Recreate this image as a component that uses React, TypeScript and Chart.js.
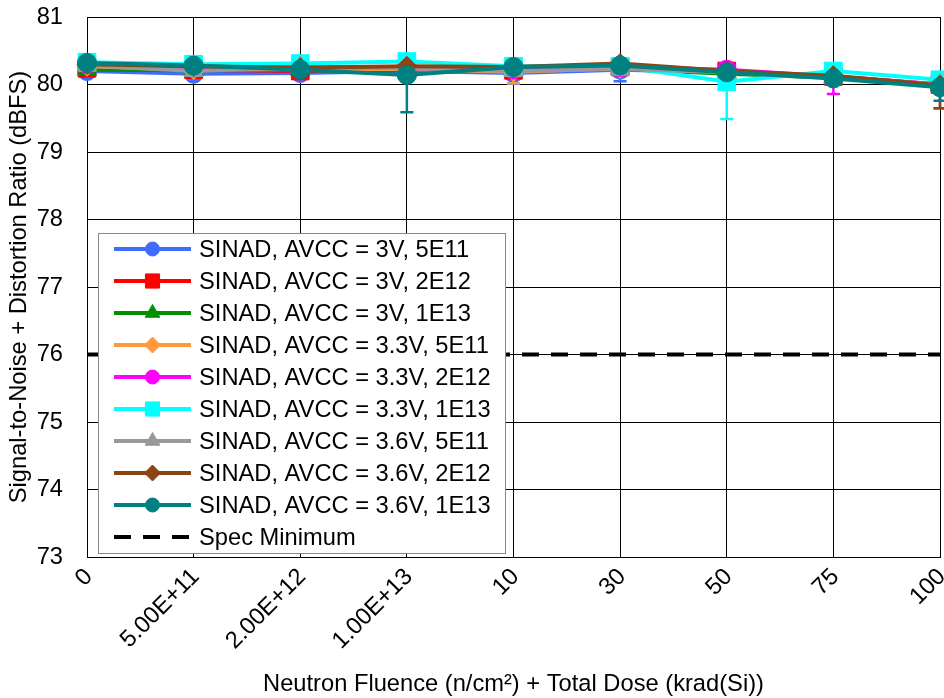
import React, { useEffect, useRef } from 'react';
import { Chart, registerables } from 'chart.js';
import { drawPoint } from 'chart.js/helpers';

Chart.register(...registerables);

// Test steps: neutron fluence levels followed by total ionizing dose levels
const categories = ['0', '5.00E+11', '2.00E+12', '1.00E+13', '10', '30', '50', '75', '100'];

// SINAD (dBFS) per supply voltage and neutron fluence lot
const sinad3V5E11 = [80.2, 80.16, 80.17, 80.2, 80.17, 80.22, 80.18, 80.1, 79.99];
const sinad3V2E12 = [80.24, 80.22, 80.2, 80.22, 80.21, 80.26, 80.2, 80.12, 80.0];
const sinad3V1E13 = [80.22, 80.21, 80.22, 80.21, 80.21, 80.23, 80.16, 80.1, 79.99];
const sinad33V5E11 = [80.27, 80.22, 80.23, 80.23, 80.19, 80.24, 80.19, 80.1, 80.0];
const sinad33V2E12 = [80.3, 80.25, 80.27, 80.24, 80.22, 80.26, 80.22, 80.12, 80.0];
const sinad33V1E13 = [80.33, 80.3, 80.31, 80.34, 80.27, 80.27, 80.04, 80.2, 80.07];
const sinad36V5E11 = [80.28, 80.2, 80.26, 80.24, 80.2, 80.23, 80.18, 80.1, 80.0];
const sinad36V2E12 = [80.3, 80.27, 80.25, 80.27, 80.26, 80.31, 80.2, 80.13, 79.99];
const sinad36V1E13 = [80.32, 80.28, 80.22, 80.14, 80.26, 80.28, 80.18, 80.09, 79.96];

// Lower error bar lengths (dB) for each series
const err3V5E11 = [0.04, 0.05, 0, 0, 0.16, 0.17, 0, 0, 0];
const err3V2E12 = [0, 0, 0, 0, 0, 0, 0, 0, 0];
const err3V1E13 = [0, 0, 0, 0, 0, 0, 0, 0, 0];
const err33V5E11 = [0, 0, 0, 0, 0.17, 0, 0, 0, 0];
const err33V2E12 = [0, 0, 0, 0, 0, 0, 0, 0.26, 0.35];
const err33V1E13 = [0, 0, 0, 0, 0, 0, 0.55, 0, 0];
const err36V5E11 = [0, 0, 0, 0, 0, 0, 0, 0, 0];
const err36V2E12 = [0, 0, 0, 0, 0, 0, 0, 0, 0.34];
const err36V1E13 = [0, 0, 0, 0.55, 0, 0, 0, 0, 0.2];

const specMinimum = 76;
const yMin = 73;
const yMax = 81;
const yStep = 1;

const seriesLabels = [
  'SINAD, AVCC = 3V, 5E11',
  'SINAD, AVCC = 3V, 2E12',
  'SINAD, AVCC = 3V, 1E13',
  'SINAD, AVCC = 3.3V, 5E11',
  'SINAD, AVCC = 3.3V, 2E12',
  'SINAD, AVCC = 3.3V, 1E13',
  'SINAD, AVCC = 3.6V, 5E11',
  'SINAD, AVCC = 3.6V, 2E12',
  'SINAD, AVCC = 3.6V, 1E13',
];
const seriesValues = [
  sinad3V5E11, sinad3V2E12, sinad3V1E13,
  sinad33V5E11, sinad33V2E12, sinad33V1E13,
  sinad36V5E11, sinad36V2E12, sinad36V1E13,
];
const seriesErrors = [
  err3V5E11, err3V2E12, err3V1E13,
  err33V5E11, err33V2E12, err33V1E13,
  err36V5E11, err36V2E12, err36V1E13,
];

const seriesColors = [
  '#3f6bff', '#ff0000', '#009000',
  '#ff9a3c', '#ff00ff', '#00ffff',
  '#999999', '#8b4513', '#008080',
];
const seriesMarkers = [
  'circle', 'rect', 'triangle',
  'rectRot', 'circle', 'rect',
  'triangle', 'rectRot', 'circle',
];

const FONT = '"Liberation Sans", Arial, sans-serif';
const TEXT_SIZE = 23.7;

const plotRadius: Record<string, number> = { circle: 9.5, rect: 12.5, triangle: 11, rectRot: 10 };
const legendRadius: Record<string, number> = { circle: 7, rect: 10, triangle: 8.5, rectRot: 8 };

// Downward error bars, drawn just under each series
const errorBarPlugin = {
  id: 'errorBars',
  beforeDatasetDraw(chart: any, args: any) {
    const ds = chart.data.datasets[args.index];
    const errs: number[] | undefined = ds.errMinus;
    if (!errs) return;
    const { ctx } = chart;
    const yScale = chart.scales.y;
    ctx.save();
    ctx.strokeStyle = ds.borderColor;
    ctx.lineWidth = 2.5;
    args.meta.data.forEach((pt: any, i: number) => {
      const e = errs[i];
      if (!e) return;
      const v = ds.data[i];
      const yTop = yScale.getPixelForValue(v);
      const yBot = yScale.getPixelForValue(v - e);
      ctx.beginPath();
      ctx.moveTo(pt.x, yTop);
      ctx.lineTo(pt.x, yBot);
      ctx.moveTo(pt.x - 6.5, yBot);
      ctx.lineTo(pt.x + 6.5, yBot);
      ctx.stroke();
    });
    ctx.restore();
  },
};

// Boxed legend in the lower-left corner of the plot area
const insideLegendPlugin = {
  id: 'insideLegend',
  afterDatasetsDraw(chart: any) {
    const { ctx, chartArea } = chart;
    const items = chart.data.datasets;
    const rowH = 32;
    const padL = 16;
    const sampleW = 77;
    const gap = 8;
    const padR = 14;
    ctx.save();
    ctx.font = `${TEXT_SIZE}px ${FONT}`;
    const textW = Math.max(...items.map((d: any) => ctx.measureText(d.label).width));
    const w = Math.round(padL + sampleW + gap + textW + padR);
    const h = rowH * items.length;
    const x0 = Math.round(chartArea.left + 11);
    const y0 = Math.round(chartArea.bottom - 4 - h);
    ctx.fillStyle = '#ffffff';
    ctx.fillRect(x0, y0, w, h);
    ctx.strokeStyle = '#8a8a8a';
    ctx.lineWidth = 1;
    ctx.strokeRect(x0 + 0.5, y0 + 0.5, w, h);

    items.forEach((d: any, i: number) => {
      const cy = y0 + 16 + i * rowH;
      const lx0 = x0 + padL;
      const lx1 = lx0 + sampleW;
      ctx.save();
      ctx.strokeStyle = d.borderColor;
      ctx.lineWidth = 4;
      ctx.setLineDash(d.borderDash || []);
      ctx.beginPath();
      ctx.moveTo(lx0, cy);
      ctx.lineTo(lx1, cy);
      ctx.stroke();
      ctx.setLineDash([]);
      if (d.pointRadius > 0) {
        ctx.fillStyle = d.backgroundColor;
        ctx.strokeStyle = d.borderColor;
        ctx.lineWidth = 1;
        drawPoint(ctx, { pointStyle: d.pointStyle, radius: legendRadius[d.pointStyle], rotation: 0, borderWidth: 1 } as any, (lx0 + lx1) / 2, cy);
      }
      ctx.restore();
      ctx.fillStyle = '#000000';
      ctx.textBaseline = 'middle';
      ctx.textAlign = 'left';
      ctx.fillText(d.label, lx1 + gap, cy + 1);
    });
    ctx.restore();
  },
};

export default function App() {
  const canvasRef = useRef<HTMLCanvasElement | null>(null);

  useEffect(() => {
    const canvas = canvasRef.current;
    if (!canvas) return;

    const datasets: any[] = seriesLabels.map((label, i) => ({
      label,
      data: seriesValues[i],
      errMinus: seriesErrors[i],
      borderColor: seriesColors[i],
      backgroundColor: seriesColors[i],
      borderWidth: 4,
      pointStyle: seriesMarkers[i],
      pointRadius: plotRadius[seriesMarkers[i]],
      pointBorderWidth: 1,
      pointBorderColor: seriesColors[i],
      pointBackgroundColor: seriesColors[i],
      tension: 0,
      clip: false,
      order: seriesLabels.length - i,
    }));
    datasets.push({
      label: 'Spec Minimum',
      data: categories.map(() => specMinimum),
      borderColor: '#000000',
      backgroundColor: '#000000',
      borderWidth: 4,
      borderDash: [17, 12],
      pointRadius: 0,
      tension: 0,
      clip: false,
      order: 50,
    });

    const tickFont = { family: FONT, size: TEXT_SIZE };

    const chart = new Chart(canvas, {
      type: 'line',
      data: { labels: categories, datasets },
      options: {
        animation: false,
        responsive: false,
        devicePixelRatio: 1,
        layout: { autoPadding: false, padding: { top: 17, right: 4, left: 0, bottom: 0 } },
        plugins: {
          legend: { display: false },
          tooltip: { enabled: false },
        },
        scales: {
          x: {
            type: 'category',
            offset: false,
            grid: { color: '#000000', lineWidth: 1, drawTicks: false },
            border: { color: '#000000', width: 1 },
            ticks: {
              autoSkip: false,
              maxRotation: 45,
              minRotation: 45,
              padding: 6,
              labelOffset: 2,
              color: '#000000',
              font: tickFont,
            },
            title: {
              display: true,
              text: 'Neutron Fluence (n/cm²) + Total Dose (krad(Si))',
              color: '#000000',
              font: { family: FONT, size: TEXT_SIZE, lineHeight: 1 },
              padding: { top: 0, bottom: 1.5 },
            },
            afterFit: (s: any) => {
              s.height = 141;
              s.paddingLeft = 0;
              s.paddingRight = 0;
            },
          },
          y: {
            min: yMin,
            max: yMax,
            grid: { color: '#000000', lineWidth: 1, drawTicks: false },
            border: { color: '#000000', width: 1 },
            ticks: {
              stepSize: yStep,
              padding: 24,
              color: '#000000',
              font: tickFont,
            },
            title: {
              display: true,
              text: 'Signal-to-Noise + Distortion Ratio (dBFS)',
              color: '#000000',
              font: { family: FONT, size: TEXT_SIZE, lineHeight: 1 },
              padding: { top: 7.5, bottom: 0 },
            },
            afterFit: (s: any) => {
              s.width = 87;
              s.paddingTop = 0;
              s.paddingBottom = 0;
            },
          },
        },
      } as any,
      plugins: [errorBarPlugin, insideLegendPlugin],
    });

    return () => chart.destroy();
  }, []);

  return (
    <div style={{ position: 'fixed', left: 0, top: 0, width: 944, height: 698, background: '#ffffff' }}>
      <canvas ref={canvasRef} width={944} height={698} style={{ display: 'block', width: 944, height: 698 }} />
    </div>
  );
}
